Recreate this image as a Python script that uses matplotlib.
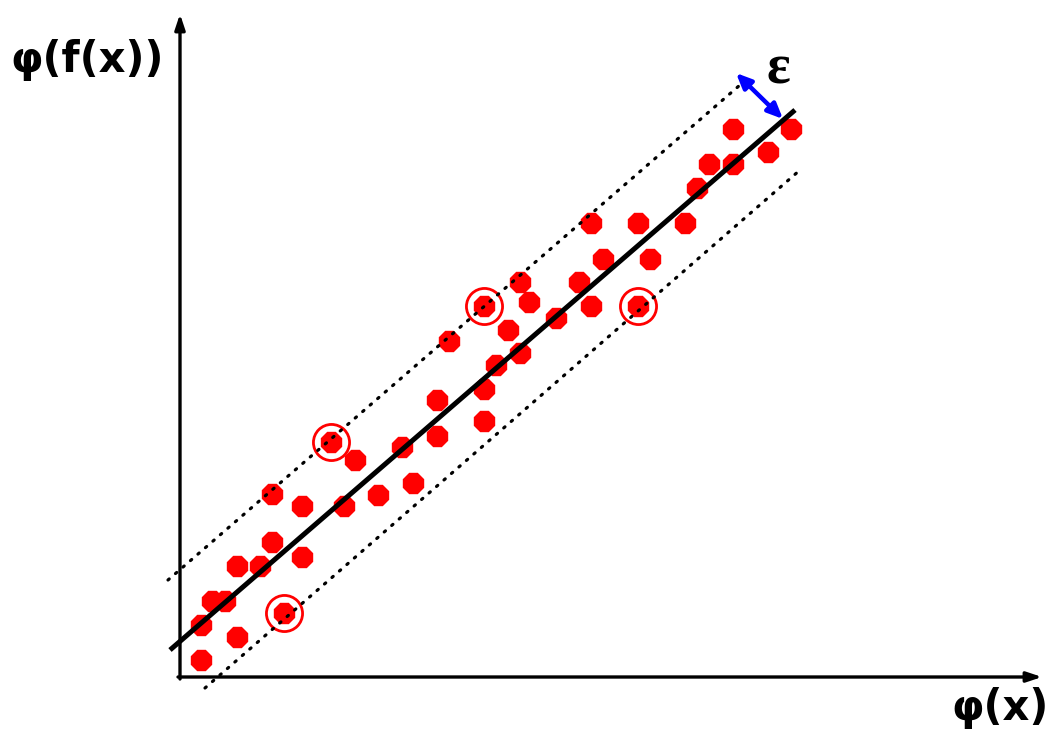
import matplotlib
matplotlib.use("Agg")
import matplotlib.pyplot as plt
import numpy as np

# Data in pixel-like coordinates (x right, y down)
pts_x = [201, 201, 212, 225, 237, 237, 260, 272, 272, 284, 302, 302, 331, 344, 355, 378, 402, 413,
         437, 437, 449, 484, 484, 484, 496, 508, 520, 520, 529, 556, 579, 591, 591, 603, 638, 638,
         650, 685, 697, 709, 733, 733, 768, 791]
pts_y = [660, 625, 601, 601, 637, 566, 566, 542, 494, 613, 557, 506, 442, 506, 460, 495, 447, 483,
         436, 400, 341, 421, 389, 306, 365, 330, 353, 282, 302, 318, 282, 306, 223, 259, 223, 306,
         259, 223, 188, 164, 164, 129, 152, 129]
circled_x = [284, 331, 484, 638]
circled_y = [613, 442, 306, 306]

main_line_x = [170, 795]
main_line_y = [650, 110]
upper_x = [168, 740]
upper_y = [580, 85]
lower_x = [205, 800]
lower_y = [688, 170]

W, H = 1061, 745
fig = plt.figure(figsize=(W / 100, H / 100), dpi=100)
ax = fig.add_axes([0, 0, 1, 1])
ax.set_xlim(0, W)
ax.set_ylim(H, 0)
ax.axis("off")

# axes arrows
ax.annotate("", xy=(180, 14), xytext=(180, 679),
            arrowprops=dict(arrowstyle="-|>,head_length=0.9,head_width=0.3", lw=2.4, color="black",
                            shrinkA=0, shrinkB=0))
ax.annotate("", xy=(1042, 677), xytext=(178, 677),
            arrowprops=dict(arrowstyle="-|>,head_length=0.9,head_width=0.3", lw=2.4, color="black",
                            shrinkA=0, shrinkB=0))

dot = dict(color="black", lw=2.3, ls=(0, (0.5, 2.6)), dash_capstyle="round", zorder=4)

# points
ax.plot(pts_x, pts_y, ls="none", marker="8", ms=15.5, color="#ff0000", mec="#ff0000", zorder=3)
ax.plot(circled_x, circled_y, ls="none", marker="o", ms=26, mfc="none", mec="#ff0000", mew=2, zorder=3)

# dotted epsilon-tube boundaries
ax.plot(upper_x, upper_y, **dot)
ax.plot(lower_x, lower_y, **dot)

ax.plot(main_line_x, main_line_y, color="black", lw=3.6, zorder=5, solid_capstyle="butt")

# epsilon arrow
ax.annotate("", xy=(736, 73), xytext=(783, 119),
            arrowprops=dict(arrowstyle="<|-|>,head_length=0.9,head_width=0.4", lw=3.2, color="#0000ff",
                            shrinkA=0, shrinkB=0), zorder=6)
ax.text(778, 70, "ε", fontsize=40, fontweight="bold", family=["Liberation Serif", "DejaVu Serif"],
        ha="center", va="center")

ax.text(87, 60, "φ(f(x))", fontsize=30, fontweight="bold", family=["DejaVu Sans"],
        ha="center", va="center")
ax.text(1000, 708, "φ(x)", fontsize=30, fontweight="bold", family=["DejaVu Sans"],
        ha="center", va="center")

fig.savefig("out.png", dpi=100)
